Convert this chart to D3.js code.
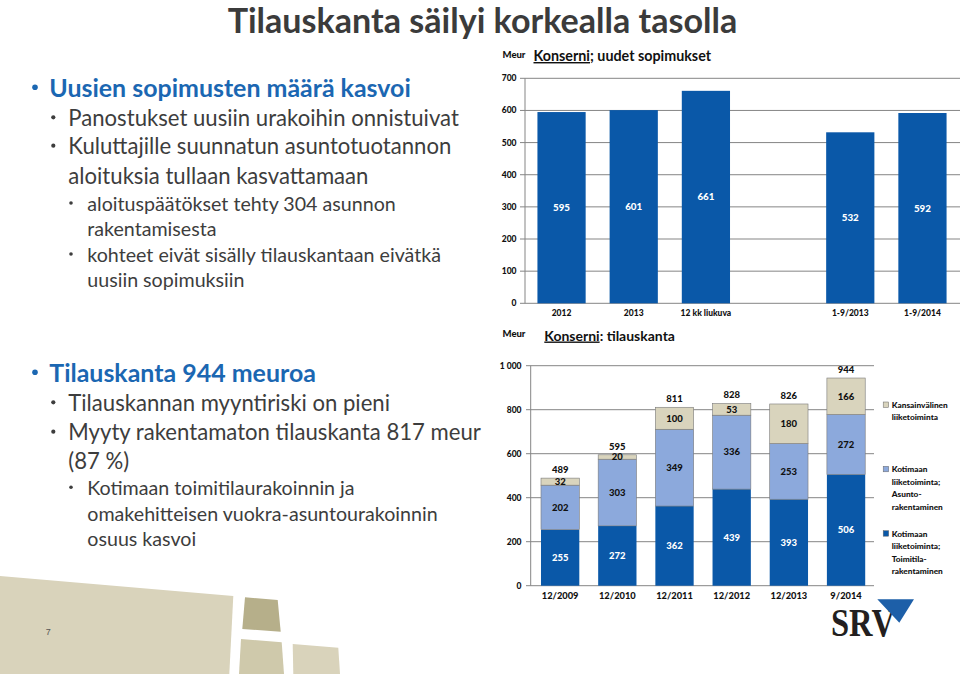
<!DOCTYPE html>
<html><head><meta charset="utf-8">
<script src="https://cdn.jsdelivr.net/npm/d3@7"></script>
<style>
html,body{margin:0;padding:0;background:#fff;}
svg{display:block;}
text{font-family:Lato,"Open Sans",sans-serif;}
</style></head>
<body>
<svg id="c" width="960" height="674"></svg>
<script>
// ---------- data ----------
const slideTitle = "Tilauskanta säilyi korkealla tasolla";
const bulletsTop = [
  {level:1, text:"Uusien sopimusten määrä kasvoi", bullet:true},
  {level:2, text:"Panostukset uusiin urakoihin onnistuivat", bullet:true},
  {level:2, text:"Kuluttajille suunnatun asuntotuotannon", bullet:true},
  {level:2, text:"aloituksia tullaan kasvattamaan", bullet:false},
  {level:3, text:"aloituspäätökset tehty 304 asunnon", bullet:true},
  {level:3, text:"rakentamisesta", bullet:false},
  {level:3, text:"kohteet eivät sisälly tilauskantaan eivätkä", bullet:true},
  {level:3, text:"uusiin sopimuksiin", bullet:false}
];
const bulletsBottom = [
  {level:1, text:"Tilauskanta 944 meuroa", bullet:true},
  {level:2, text:"Tilauskannan myyntiriski on pieni", bullet:true},
  {level:2, text:"Myyty rakentamaton tilauskanta 817 meur", bullet:true},
  {level:2, text:"(87 %)", bullet:false},
  {level:3, text:"Kotimaan toimitilaurakoinnin ja", bullet:true},
  {level:3, text:"omakehitteisen vuokra-asuntourakoinnin", bullet:false},
  {level:3, text:"osuus kasvoi", bullet:false}
];

// chart 1: new contracts
const c1Categories = ["2012","2013","12 kk liukuva"," ","1-9/2013","1-9/2014"];
const c1Values = [595, 601, 661, null, 532, 592];
const c1Ticks = [0,100,200,300,400,500,600,700];

// chart 2: order backlog
const c2Categories = ["12/2009","12/2010","12/2011","12/2012","12/2013","9/2014"];
const c2Toimitila = [255, 272, 362, 439, 393, 506];
const c2Asunto = [202, 303, 349, 336, 253, 272];
const c2Kansainvalinen = [32, 20, 100, 53, 180, 166];
const c2Totals = [489, 595, 811, 828, 826, 944];
const c2Ticks = [0,200,400,600,800,1000];
const c2Series = ["Toimitila","Asunto","Kansainvalinen"];
const c2Legend = [
  {key:"Kansainvalinen", lines:["Kansainvälinen","liiketoiminta"]},
  {key:"Asunto", lines:["Kotimaan","liiketoiminta;","Asunto-","rakentaminen"]},
  {key:"Toimitila", lines:["Kotimaan","liiketoiminta;","Toimitila-","rakentaminen"]}
];

// ---------- drawing ----------
const svg = d3.select("#c");
const DARK = "#0a58a8", LIGHT = "#8ca9dc", BEIGE = "#d9d4bd";
const colors = {Toimitila:DARK, Asunto:LIGHT, Kansainvalinen:BEIGE};
const CW = 900; // chart label weight

// decorative shapes
const shapes = [
  {pts:[[0,576],[233.3,596],[229.3,674],[0,674]], fill:"#d9d3bb"},
  {pts:[[245,597.3],[277.7,600],[280.7,631.7],[242.3,629]], fill:"#b6af8a"},
  {pts:[[241,639],[281.7,642.3],[284,674],[239,674]], fill:"#cfc9ab"},
  {pts:[[292.7,644],[338.3,647.7],[340,674],[293.3,674]], fill:"#d9d3bb"}
];
svg.selectAll("polygon.deco").data(shapes).join("polygon").attr("class","deco")
  .attr("points",d=>d.pts.map(p=>p.join(",")).join(" ")).attr("fill",d=>d.fill);
svg.append("text").attr("x",48.3).attr("y",635).attr("font-size",9).attr("fill","#555")
  .attr("text-anchor","middle").style("font-family","Arial,'Liberation Sans'").text("7");

// fit helper
function fitSize(text, weight, target){
  const t = svg.append("text").attr("font-size",20).attr("font-weight",weight).text(text);
  const w = t.node().getComputedTextLength(); t.remove();
  return 20*target/w;
}
const titleSize = fitSize(slideTitle, 700, 510);
svg.append("text").attr("x",482.5).attr("y",33).attr("text-anchor","middle")
  .attr("font-size",titleSize).attr("font-weight",700).attr("fill","#3b3b3b").text(slideTitle);

const lvl = {
  1:{x:49.3, bx:35, size:fitSize(bulletsTop[0].text,700,361.7), weight:700, fill:"#1b67b2", br:2.8},
  2:{x:68.3, bx:53.3, size:fitSize(bulletsTop[1].text,400,391), weight:400, fill:"#3d3d3d", br:2.1},
  3:{x:87.3, bx:71, size:fitSize(bulletsTop[4].text,400,308.7), weight:400, fill:"#3d3d3d", br:1.8}
};
function drawBullets(list, ys){
  list.forEach((b,i)=>{
    const L = lvl[b.level];
    svg.append("text").attr("x",L.x).attr("y",ys[i]).attr("dy","0.35em")
      .attr("font-size",L.size).attr("font-weight",L.weight).attr("fill",L.fill).text(b.text);
    if(b.bullet) svg.append("circle").attr("cx",L.bx).attr("cy",ys[i]-1).attr("r",L.br).attr("fill",L.fill);
  });
}
drawBullets(bulletsTop,[88.3,118.3,146.7,176,204,229.3,255,280]);
drawBullets(bulletsBottom,[373.3,403.3,432.7,461.7,488.3,514,539.3]);

// ---------- chart 1 ----------
const x1 = d3.scaleBand().domain(c1Categories).range([523,961]).paddingInner(0.332).paddingOuter(0.2);
const y1 = d3.scaleLinear().domain([0,700]).range([303.3,78.3]);
const g1 = svg.append("g");
g1.selectAll("line.grid").data(c1Ticks).join("line")
  .attr("x1",520).attr("x2",960).attr("y1",d=>y1(d)).attr("y2",d=>y1(d))
  .attr("stroke","#858585").attr("stroke-width",1);
g1.append("line").attr("x1",525).attr("x2",525).attr("y1",y1(700)).attr("y2",y1(0)).attr("stroke","#858585");
g1.selectAll("text.tick").data(c1Ticks).join("text")
  .attr("x",516.5).attr("y",d=>y1(d)).attr("dy","0.35em").attr("text-anchor","end")
  .attr("font-size",8.5).attr("font-weight",CW).attr("fill","#111").text(d=>d);
const bars1 = c1Categories.map((c,i)=>({c, v:c1Values[i]})).filter(d=>d.v!=null);
g1.selectAll("rect").data(bars1).join("rect")
  .attr("x",d=>x1(d.c)).attr("width",x1.bandwidth())
  .attr("y",d=>y1(d.v)).attr("height",d=>y1(0)-y1(d.v)).attr("fill",DARK);
g1.selectAll("text.val").data(bars1).join("text")
  .attr("x",d=>x1(d.c)+x1.bandwidth()/2).attr("y",d=>(y1(d.v)+y1(0))/2).attr("dy","0.35em")
  .attr("text-anchor","middle").attr("font-size",9.8).attr("font-weight",CW).attr("fill","#fff").text(d=>d.v);
g1.selectAll("text.cat").data(c1Categories).join("text")
  .attr("x",d=>x1(d)+x1.bandwidth()/2).attr("y",313.5).attr("dy","0.35em")
  .attr("text-anchor","middle").attr("font-size",8.5).attr("font-weight",CW).attr("fill","#111").text(d=>d.trim());
svg.append("text").attr("x",502.5).attr("y",58).attr("font-size",9.5).attr("font-weight",CW).attr("fill","#111").text("Meur");
const t1 = svg.append("text").attr("x",533.5).attr("y",61).attr("font-size",14.3).attr("font-weight",700).attr("fill","#111");
t1.append("tspan").attr("text-decoration","underline").text("Konserni");
t1.append("tspan").text("; uudet sopimukset");

// ---------- chart 2 ----------
const x2 = d3.scaleBand().domain(c2Categories).range([530.7,875.5]).paddingInner(0.33).paddingOuter(0.18);
const y2 = d3.scaleLinear().domain([0,1000]).range([585.7,365.7]);
const g2 = svg.append("g");
g2.selectAll("line.grid").data(c2Ticks).join("line")
  .attr("x1",526).attr("x2",874).attr("y1",d=>y2(d)).attr("y2",d=>y2(d))
  .attr("stroke","#858585").attr("stroke-width",1);
g2.append("line").attr("x1",530.7).attr("x2",530.7).attr("y1",y2(1000)).attr("y2",y2(0)).attr("stroke","#858585");
const fmt = d=> d>=1000 ? d3.format(",")(d).replace(","," ") : String(d);
g2.selectAll("text.tick").data(c2Ticks).join("text")
  .attr("x",521.5).attr("y",d=>y2(d)).attr("dy","0.35em").attr("text-anchor","end")
  .attr("font-size",8.5).attr("font-weight",CW).attr("fill","#111").text(fmt);

const table = c2Categories.map((c,i)=>({cat:c, Toimitila:c2Toimitila[i], Asunto:c2Asunto[i], Kansainvalinen:c2Kansainvalinen[i], total:c2Totals[i]}));
const stacked = d3.stack().keys(c2Series)(table);
stacked.forEach(layer=>{
  const key = layer.key;
  g2.selectAll("rect."+key).data(layer).join("rect").attr("class",key)
    .attr("x",d=>x2(d.data.cat)).attr("width",x2.bandwidth())
    .attr("y",d=>y2(d[1])).attr("height",d=>y2(d[0])-y2(d[1]))
    .attr("fill",colors[key])
    .attr("stroke", key==="Toimitila" ? "none" : "#7a7a7a").attr("stroke-width",0.6);
  g2.selectAll("text.v"+key).data(layer).join("text").attr("class","v"+key)
    .attr("x",d=>x2(d.data.cat)+x2.bandwidth()/2).attr("y",d=>y2((d[0]+d[1])/2)).attr("dy","0.35em")
    .attr("text-anchor","middle").attr("font-size",9.5).attr("font-weight",CW)
    .attr("fill", key==="Toimitila" ? "#fff" : "#111").text(d=>d.data[key]);
});
g2.selectAll("text.tot").data(table).join("text")
  .attr("x",d=>x2(d.cat)+x2.bandwidth()/2).attr("y",d=>y2(d.total)-8.5).attr("dy","0.35em")
  .attr("text-anchor","middle").attr("font-size",9.5).attr("font-weight",CW).attr("fill","#111").text(d=>d.total);
g2.selectAll("text.cat").data(c2Categories).join("text")
  .attr("x",d=>x2(d)+x2.bandwidth()/2).attr("y",596).attr("dy","0.35em")
  .attr("text-anchor","middle").attr("font-size",9.3).attr("font-weight",CW).attr("fill","#111").text(d=>d);
svg.append("text").attr("x",502.5).attr("y",336.5).attr("font-size",9.5).attr("font-weight",CW).attr("fill","#111").text("Meur");
const t2 = svg.append("text").attr("x",544.3).attr("y",340.5).attr("font-size",14).attr("font-weight",700).attr("fill","#111");
t2.append("tspan").attr("text-decoration","underline").text("Konserni");
t2.append("tspan").text(": tilauskanta");

// legend
const legendY = [405, 469.3, 533.7];
c2Legend.forEach((l,i)=>{
  svg.append("rect").attr("x",883.2).attr("y",legendY[i]-3).attr("width",5.5).attr("height",5.5)
    .attr("fill",colors[l.key]).attr("stroke","#666").attr("stroke-width",0.5);
  l.lines.forEach((s,j)=>{
    svg.append("text").attr("x",891.7).attr("y",legendY[i]+j*12.5).attr("dy","0.35em")
      .attr("font-size",8.3).attr("font-weight",CW).attr("fill","#111").text(s);
  });
});

// logo
svg.append("text").attr("x",831).attr("y",636).attr("font-size",40).attr("font-weight",700)
  .attr("textLength",64).attr("lengthAdjust","spacingAndGlyphs")
  .style("font-family","'Liberation Serif','DejaVu Serif',serif").attr("fill","#231f20").text("SRV");
svg.append("polygon").attr("points","877.3,599.3 914,599.3 899.3,622.7").attr("fill","#1d5fa8");
</script>
</body></html>
